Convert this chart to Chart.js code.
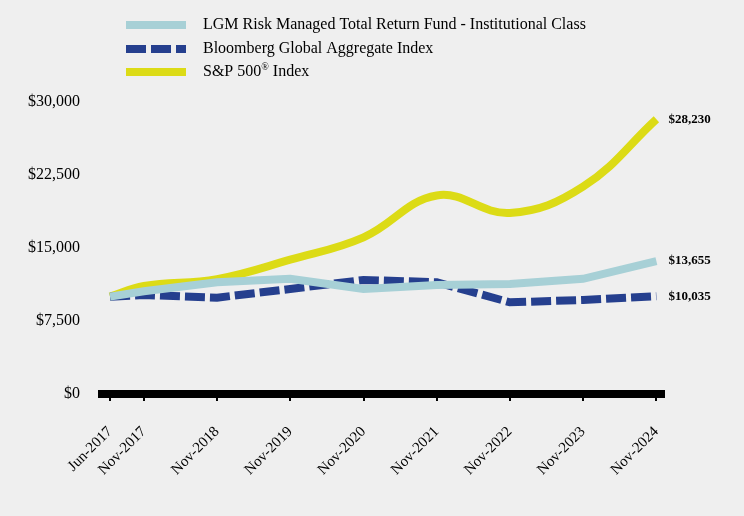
<!DOCTYPE html>
<html><head><meta charset="utf-8">
<script src="https://cdn.jsdelivr.net/npm/chart.js@4/dist/chart.umd.min.js"></script>
<style>html,body{margin:0;padding:0;background:#efefef;} #wrap{width:744px;height:516px;}</style>
</head><body><div id="wrap"><canvas id="c" width="744" height="516"></canvas></div>
<script>
const periodLabels = ['Jun-2017','Nov-2017','Nov-2018','Nov-2019','Nov-2020','Nov-2021','Nov-2022','Nov-2023','Nov-2024'];
const periodDates = ['2017-06-14','2017-11-30','2018-11-30','2019-11-30','2020-11-30','2021-11-30','2022-11-30','2023-11-30','2024-11-30'];
const lgmValues = [10000, 10550, 11480, 11830, 10790, 11200, 11310, 11830, 13655];
const bloombergValues = [10000, 10170, 9900, 10790, 11720, 11480, 9420, 9660, 10035];
const sp500Values = [10000, 11100, 11800, 13800, 16100, 20400, 18600, 21300, 28230];
const seriesNames = ['LGM Risk Managed Total Return Fund - Institutional Class', 'Bloomberg Global Aggregate Index', 'S&P 500® Index'];
const yTickValues = [0, 7500, 15000, 22500, 30000];

const SERIF = "'Liberation Serif', 'Times New Roman', serif";
const colors = ['#a7d0d6', '#253f8e', '#dcdb16'];
const dashes = [[], [20, 5], []];

const t0 = Date.parse(periodDates[0]);
const xVals = periodDates.map(d => Math.round((Date.parse(d) - t0) / 86400000));
const toPts = vals => vals.map((v, i) => ({x: xVals[i], y: v}));

const bgPlugin = {
  id: 'bg',
  beforeDraw(chart) {
    const ctx = chart.ctx;
    ctx.save();
    ctx.fillStyle = '#efefef';
    ctx.fillRect(0, 0, chart.width, chart.height);
    ctx.restore();
  }
};

const legendPlugin = {
  id: 'customLegend',
  afterDraw(chart) {
    const ctx = chart.ctx;
    const rows = [25, 49, 72];
    ctx.save();
    chart.data.datasets.forEach((ds, i) => {
      const y = rows[i];
      ctx.strokeStyle = ds.borderColor;
      ctx.lineWidth = 8;
      ctx.lineCap = 'butt';
      ctx.setLineDash(ds.borderDash || []);
      ctx.beginPath();
      ctx.moveTo(126, y);
      ctx.lineTo(186, y);
      ctx.stroke();
      ctx.setLineDash([]);
      ctx.fillStyle = '#000';
      ctx.textBaseline = 'middle';
      ctx.textAlign = 'left';
      const parts = ds.label.split('®');
      let x = 203;
      ctx.font = '16px ' + SERIF;
      ctx.fillText(parts[0], x, y);
      if (parts.length > 1) {
        x += ctx.measureText(parts[0]).width;
        ctx.font = '10px ' + SERIF;
        ctx.fillText('®', x, y - 5);
        x += ctx.measureText('®').width;
        ctx.font = '16px ' + SERIF;
        ctx.fillText(parts[1], x, y);
      }
    });
    ctx.restore();
  }
};

const endLabelPlugin = {
  id: 'endLabels',
  afterDatasetsDraw(chart) {
    const ctx = chart.ctx;
    ctx.save();
    ctx.font = 'bold 13px ' + SERIF;
    ctx.fillStyle = '#000';
    ctx.textBaseline = 'middle';
    ctx.textAlign = 'left';
    chart.data.datasets.forEach((ds, i) => {
      const meta = chart.getDatasetMeta(i);
      const last = meta.data[meta.data.length - 1];
      const v = ds.data[ds.data.length - 1].y;
      ctx.fillText('$' + v.toLocaleString('en-US'), last.x + 12, last.y);
    });
    ctx.restore();
  }
};

new Chart(document.getElementById('c'), {
  type: 'line',
  data: {
    datasets: [
      {label: seriesNames[0], data: toPts(lgmValues), borderColor: colors[0], borderWidth: 8, borderDash: dashes[0], tension: 0, pointRadius: 0, fill: false},
      {label: seriesNames[1], data: toPts(bloombergValues), borderColor: colors[1], borderWidth: 8, borderDash: dashes[1], tension: 0, pointRadius: 0, fill: false},
      {label: seriesNames[2], data: toPts(sp500Values), borderColor: colors[2], borderWidth: 8, borderDash: dashes[2], tension: 0.4, pointRadius: 0, fill: false}
    ]
  },
  options: {
    responsive: false,
    devicePixelRatio: 1,
    animation: false,
    layout: {padding: {top: 102, right: 80, left: 0, bottom: 0}},
    plugins: {legend: {display: false}, tooltip: {enabled: false}},
    scales: {
      x: {
        type: 'linear',
        min: -40,
        max: 2764,
        afterBuildTicks: s => { s.ticks = xVals.map(v => ({value: v})); },
        afterFit: s => { s.height = 122; },
        ticks: {
          autoSkip: false, maxRotation: 45, minRotation: 45,
          callback: (v, i) => periodLabels[i],
          font: {family: SERIF, size: 15}, color: '#000', padding: 22
        },
        grid: {drawOnChartArea: false, drawTicks: true, tickLength: 7, color: '#000', lineWidth: 2},
        border: {display: true, color: '#000', width: 8}
      },
      y: {
        min: 0,
        max: 30000,
        afterBuildTicks: s => { s.ticks = yTickValues.map(v => ({value: v})); },
        afterFit: s => { s.width = 102; },
        ticks: {
          callback: v => '$' + v.toLocaleString('en-US'),
          font: {family: SERIF, size: 16}, color: '#000', padding: 22
        },
        grid: {display: false, drawTicks: false},
        border: {display: false}
      }
    }
  },
  plugins: [bgPlugin, legendPlugin, endLabelPlugin]
});
</script>
</body></html>
